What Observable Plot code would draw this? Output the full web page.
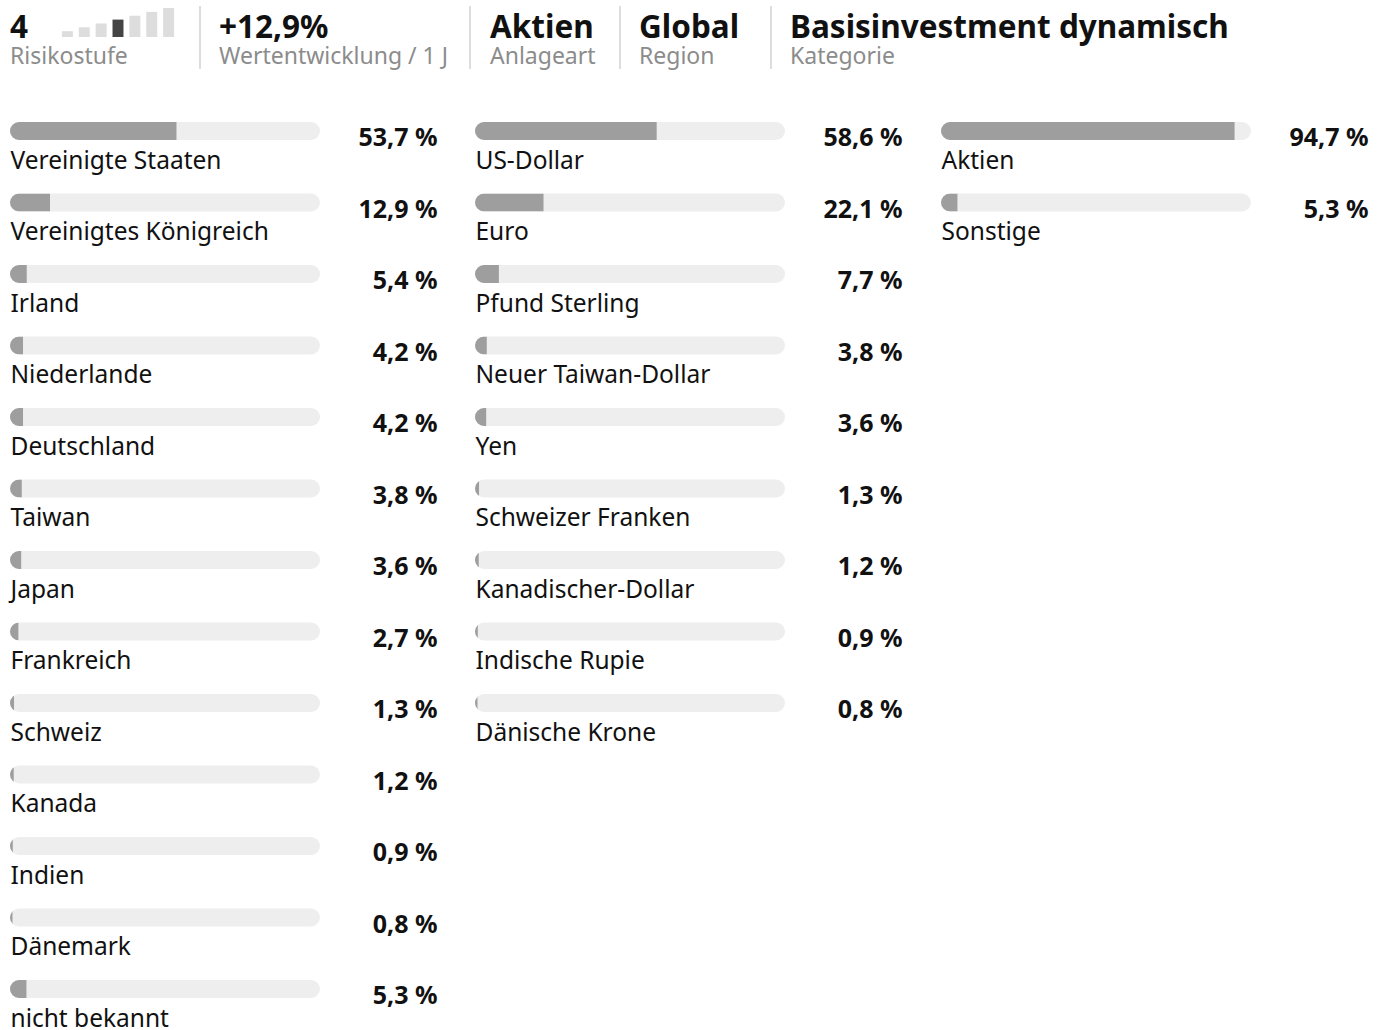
<!DOCTYPE html>
<html><head><meta charset="utf-8">
<script src="https://cdn.jsdelivr.net/npm/d3@7"></script>
<script src="https://cdn.jsdelivr.net/npm/@observablehq/plot@0.6"></script>
<style>
html,body{margin:0;padding:0;background:#fff;}
body{width:1384px;height:1030px;overflow:hidden;position:relative;font-family:"Noto Sans",sans-serif;}
.h{position:absolute;white-space:nowrap;line-height:1}
.t{font-size:31.5px;font-weight:700;color:#111;top:10px}
.s{font-size:23px;color:#8c8c8c;top:44px}
.sep{position:absolute;top:6px;height:63px;width:2px;background:#ddd}
.col{position:absolute;top:100px}
#risk{position:absolute;left:56px;top:0}
</style></head><body>
<div id="header"></div>
<div id="risk"></div>
<div id="cols"></div>
<script>
// ---- data ----
const riskLevels = [1, 2, 3, 4, 5, 6, 7];
const riskLevel = 4;
const headerTitles = ["4", "+12,9%", "Aktien", "Global", "Basisinvestment dynamisch"];
const headerSubtitles = ["Risikostufe", "Wertentwicklung / 1 J", "Anlageart", "Region", "Kategorie"];

const countries = ["Vereinigte Staaten", "Vereinigtes Königreich", "Irland", "Niederlande", "Deutschland", "Taiwan", "Japan", "Frankreich", "Schweiz", "Kanada", "Indien", "Dänemark", "nicht bekannt"];
const countryValues = [53.7, 12.9, 5.4, 4.2, 4.2, 3.8, 3.6, 2.7, 1.3, 1.2, 0.9, 0.8, 5.3];

const currencies = ["US-Dollar", "Euro", "Pfund Sterling", "Neuer Taiwan-Dollar", "Yen", "Schweizer Franken", "Kanadischer-Dollar", "Indische Rupie", "Dänische Krone"];
const currencyValues = [58.6, 22.1, 7.7, 3.8, 3.6, 1.3, 1.2, 0.9, 0.8];

const assetClasses = ["Aktien", "Sonstige"];
const assetValues = [94.7, 5.3];

// ---- header ----
const headerLefts = [10, 219, 490, 639, 790];
const sepLefts = [199, 469, 619, 770];
const header = document.getElementById("header");
headerTitles.forEach((t, i) => {
  const a = document.createElement("div");
  a.className = "h t"; a.style.left = headerLefts[i] + "px"; a.textContent = t;
  header.appendChild(a);
  const b = document.createElement("div");
  b.className = "h s"; b.style.left = headerLefts[i] + "px"; b.textContent = headerSubtitles[i];
  header.appendChild(b);
});
sepLefts.forEach(x => {
  const s = document.createElement("div");
  s.className = "sep"; s.style.left = x + "px";
  header.appendChild(s);
});

const risk = Plot.plot({
  width: 124, height: 40,
  marginLeft: 0, marginRight: 0, marginTop: 8, marginBottom: 3,
  x: {domain: riskLevels, padding: 0.35, axis: null, round: false},
  y: {domain: [-0.5, 7], axis: null},
  style: {background: "transparent"},
  marks: [
    Plot.barY(riskLevels.filter(d => d !== riskLevel), {x: d => d, y1: -0.5, y2: d => d, fill: "#dddddd"}),
    Plot.barY(riskLevels.filter(d => d === riskLevel), {x: d => d, y1: -0.5, y2: d => d, fill: "#444444"})
  ]
});
document.getElementById("risk").appendChild(risk);

// ---- columns ----
const fmt = v => v.toFixed(1).replace(".", ",") + " %";
function column(labels, values, left, id) {
  const data = labels.map((label, i) => ({label, value: values[i]}));
  const rowH = 71.5, mt = 22, mb = 10;
  const height = mt + labels.length * rowH + mb;
  const p = Plot.plot({
    width: 440, height,
    marginLeft: 10, marginRight: 120, marginTop: mt, marginBottom: mb,
    x: {domain: [0, 100], axis: null},
    y: {domain: labels, axis: null, padding: 0, round: false},
    style: {fontFamily: "'Noto Sans', sans-serif", fontSize: "24px", color: "#111", background: "transparent", overflow: "visible"},
    marks: [
      Plot.barX(data, {x1: 0, x2: 100, y: "label", fill: "#eeeeee", rx: 9, insetBottom: rowH - 18}),
      Plot.barX(data, {x1: 0, x2: "value", y: "label", fill: "#9e9e9e", insetBottom: rowH - 18}),
      Plot.text(data, {x: 0, y: "label", text: "label", textAnchor: "start", lineAnchor: "bottom", dy: 46 - rowH / 2, fontSize: 24.5, fill: "#111"}),
      Plot.text(data, {x: 100, y: "label", text: d => fmt(d.value), textAnchor: "end", dx: 117, dy: 15.5 - rowH / 2, fontSize: 25, fontWeight: 700, fill: "#111", letterSpacing: 0.4})
    ]
  });
  const svg = d3.select(p);
  const groups = svg.selectAll('g[aria-label="bar"]').nodes();
  const clipId = "clip-" + id;
  const cp = svg.insert("defs", ":first-child").append("clipPath").attr("id", clipId);
  d3.select(groups[0]).selectAll("rect").each(function () {
    const c = this.cloneNode();
    c.setAttribute("rx", 9); c.setAttribute("ry", 9);
    cp.node().appendChild(c);
  });
  d3.select(groups[1]).attr("clip-path", `url(#${clipId})`);
  const div = document.createElement("div");
  div.className = "col"; div.style.left = left + "px";
  div.appendChild(p);
  document.getElementById("cols").appendChild(div);
}
column(countries, countryValues, 0, "c");
column(currencies, currencyValues, 465, "w");
column(assetClasses, assetValues, 931, "a");
</script>
</body></html>
